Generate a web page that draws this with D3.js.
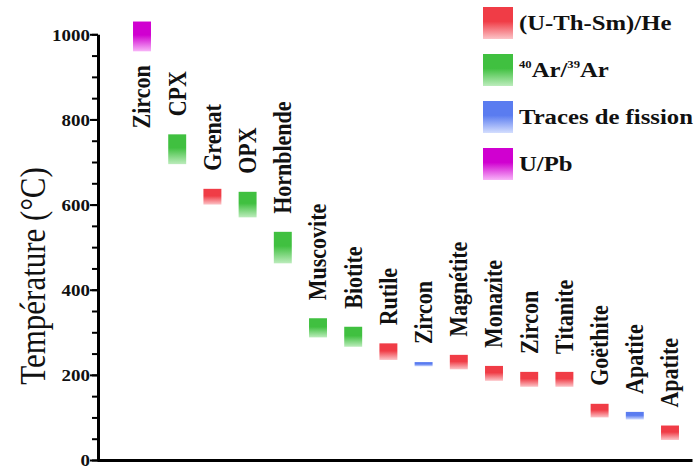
<!DOCTYPE html>
<html>
<head>
<meta charset="utf-8">
<script src="https://cdn.jsdelivr.net/npm/d3@7"></script>
<style>
  body { margin: 0; background: #fff; }
  svg { display: block; font-family: "Liberation Serif", "Times New Roman", serif; }
</style>
</head>
<body>
<svg id="chart" width="694" height="470"></svg>
<script>
// minerals, in the order of the figure
var minerals = ["Zircon", "CPX", "Grenat", "OPX", "Hornblende", "Muscovite", "Biotite", "Rutile",
                "Zircon", "Magnétite", "Monazite", "Zircon", "Titanite", "Goëthite", "Apatite", "Apatite"];
// dating method of each bar
var methods = ["UPb", "Ar", "He", "Ar", "Ar", "Ar", "Ar", "He",
               "FT", "He", "He", "He", "He", "He", "FT", "He"];
// closure temperature range (°C)
var tLow  = [960, 695, 600, 570, 462, 288, 266, 235, 220, 213, 186, 172, 172, 100, 95, 47];
var tHigh = [1030, 765, 637, 630, 536, 333, 313, 274, 230, 247, 221, 207, 207, 132, 113, 81];

var legendKeys = ["He", "Ar", "FT", "UPb"];
var legendNames = ["(U-Th-Sm)/He", "40Ar/39Ar", "Traces de fission", "U/Pb"];
var majorTicks = [0, 200, 400, 600, 800, 1000];
var minorTicks = d3.range(0, 1001, 50);

var colors = {
    He:  ["#f03c46", "#fcc4c8"],
    Ar:  ["#40c040", "#bcecbc"],
    FT:  ["#5a7cf0", "#d4defe"],
    UPb: ["#d000d0", "#f8b4f8"]
};

var svg = d3.select("#chart");
var sx = 1.15; // the figure is a bit stretched sideways

var plotLeft = 98, plotRight = 692, plotBottom = 460, plotTop = 34.3;

var y = d3.scaleLinear().domain([0, 1000]).range([plotBottom, plotTop]);
var x = d3.scaleBand().domain(d3.range(minerals.length))
    .range([plotLeft + 26.4, plotRight - 4.4])
    .paddingInner(0.49).paddingOuter(0.245);

// gradients: full colour on top, fading down
var defs = svg.append("defs");
Object.keys(colors).forEach(function(k) {
    var g = defs.append("linearGradient").attr("id", "grad-" + k)
        .attr("x1", 0).attr("y1", 0).attr("x2", 0).attr("y2", 1);
    g.append("stop").attr("offset", "0").attr("stop-color", colors[k][0]);
    g.append("stop").attr("offset", "0.45").attr("stop-color", colors[k][0]);
    g.append("stop").attr("offset", "1").attr("stop-color", colors[k][1]);
});

// bars
svg.append("g").selectAll("rect")
    .data(minerals)
    .enter().append("rect")
    .attr("x", function(d, i) { return x(i); })
    .attr("y", function(d, i) { return y(tHigh[i]); })
    .attr("width", x.bandwidth())
    .attr("height", function(d, i) { return y(tLow[i]) - y(tHigh[i]); })
    .attr("fill", function(d, i) { return "url(#grad-" + methods[i] + ")"; });

// labels, rotated, above the bars (below if no room)
var gap = 18;
svg.append("g").selectAll("g")
    .data(minerals)
    .enter().append("g")
    .each(function(d, i) {
        var cx = x(i) + x.bandwidth() / 2;
        var g = d3.select(this);
        var t = g.append("text")
            .attr("transform", "scale(" + sx + ",1) rotate(-90)")
            .attr("dy", "0.33em")
            .style("font-size", "22px")
            .style("font-weight", "bold")
            .attr("fill", "#111")
            .text(d);
        var len = t.node().getComputedTextLength();
        if (y(tHigh[i]) - gap - len < 4) {
            t.attr("text-anchor", "end");
            g.attr("transform", "translate(" + cx + "," + (y(tLow[i]) + 14) + ")");
        } else {
            t.attr("text-anchor", "start");
            g.attr("transform", "translate(" + cx + "," + (y(tHigh[i]) - gap) + ")");
        }
    });

// y axis: minor ticks then major ticks with labels
svg.append("g")
    .attr("transform", "translate(" + plotLeft + ",0)")
    .call(d3.axisLeft(y).tickValues(minorTicks).tickSize(6).tickSizeOuter(0).tickFormat(""))
    .call(function(g) {
        g.select(".domain").attr("stroke-width", 3);
        g.selectAll(".tick line").attr("stroke-width", 2);
    });

svg.append("g")
    .attr("transform", "translate(" + plotLeft + ",0)")
    .call(d3.axisLeft(y).tickValues(majorTicks).tickSize(8).tickSizeOuter(0).tickFormat(d3.format("d")))
    .call(function(g) {
        g.select(".domain").remove();
        g.selectAll(".tick line").attr("stroke-width", 2);
        g.selectAll(".tick text")
            .attr("x", -8 / sx)
            .attr("dy", "0.36em")
            .attr("transform", "scale(" + sx + ",1)")
            .attr("fill", "#111")
            .style("font-family", "'Liberation Serif', 'Times New Roman', serif")
            .style("font-size", "16.5px")
            .style("font-weight", "bold");
    });

// x axis: plain line
svg.append("g")
    .attr("transform", "translate(0," + plotBottom + ")")
    .call(d3.axisBottom(d3.scaleLinear().range([plotLeft - 1, plotRight])).tickValues([]).tickSizeOuter(0))
    .call(function(g) { g.select(".domain").attr("stroke-width", 3); });

// y title
svg.append("text")
    .attr("transform", "translate(45,276) scale(" + sx + ",1) rotate(-90)")
    .attr("text-anchor", "middle")
    .style("font-size", "31px")
    .attr("fill", "#111")
    .text("Température (°C)");

// legend
var leg = svg.append("g").selectAll("g")
    .data(legendKeys)
    .enter().append("g")
    .attr("transform", function(d, i) { return "translate(483," + (7 + i * 47) + ")"; });

leg.append("rect")
    .attr("width", 30).attr("height", 32)
    .attr("fill", function(d) { return "url(#grad-" + d + ")"; });

leg.append("text")
    .attr("transform", "translate(36,23) scale(" + sx + ",1)")
    .style("font-size", "21.5px")
    .style("font-weight", "bold")
    .attr("fill", "#111")
    .each(function(d, i) {
        var t = d3.select(this);
        if (d === "Ar") {
            var parts = legendNames[i].match(/(\d+)(Ar\/)(\d+)(Ar)/);
            t.append("tspan").style("font-size", "11px").attr("dy", -9).text(parts[1]);
            t.append("tspan").attr("dy", 9).text(parts[2]);
            t.append("tspan").style("font-size", "11px").attr("dy", -9).text(parts[3]);
            t.append("tspan").attr("dy", 9).text(parts[4]);
        } else {
            t.text(legendNames[i]);
        }
    });
</script>
</body>
</html>
